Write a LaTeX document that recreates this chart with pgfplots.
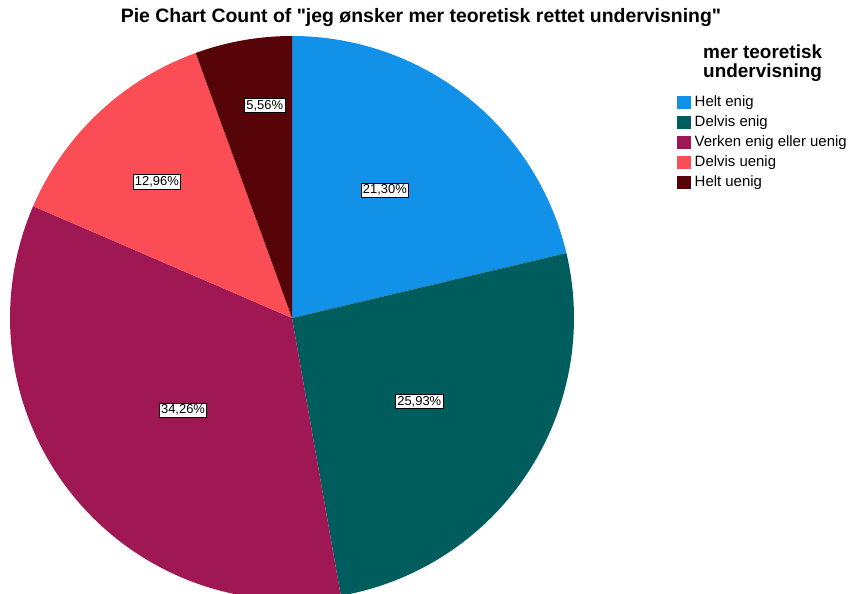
\documentclass[border=0pt]{standalone}
\usepackage{pgfplots}
\pgfplotsset{compat=1.18}
\usepgfplotslibrary{polar}
\usepackage{fontspec}
\setmainfont{Liberation Sans}[Ligatures=TeXOff]
\definecolor{cA}{HTML}{1192E8}
\definecolor{cB}{HTML}{005D5D}
\definecolor{cC}{HTML}{9F1853}
\definecolor{cD}{HTML}{FA4D56}
\definecolor{cE}{HTML}{570408}
% percentages
\def\pA{21.30}\def\pB{25.93}\def\pC{34.26}\def\pD{12.96}\def\pE{5.56}
\pgfmathsetmacro\aZ{90}
\pgfmathsetmacro\aA{\aZ-3.6*\pA}
\pgfmathsetmacro\aB{\aA-3.6*\pB}
\pgfmathsetmacro\aC{\aB-3.6*\pC}
\pgfmathsetmacro\aD{\aC-3.6*\pD}
\pgfmathsetmacro\aE{-270}
\begin{document}
\begin{tikzpicture}
\useasboundingbox (0bp,0bp) rectangle (854bp,594bp);
\begin{polaraxis}[
  at={(292bp,276bp)}, anchor=center,
  width=564bp, height=564bp, scale only axis,
  ymin=0, ymax=1,
  hide axis,
  clip=false,
  legend cell align=left,
  legend style={at={(1.18,0.899)}, anchor=north west, draw=none, fill=none,
    font=\fontsize{15}{17}\selectfont, row sep=4bp, inner sep=1bp,
    nodes={inner sep=1bp, text height=11bp, text depth=3bp},
    /tikz/every even column/.append style={column sep=0bp}},
  legend image code/.code={\fill[#1] (0bp,-6.5bp) rectangle (14bp,6.5bp);},
  legend entries={},
]
\addplot[fill=cA, draw=none, domain=\aA:\aZ, samples=60] {1} -- (axis cs:0,0) -- cycle;
\addlegendentry{\hspace{3bp}Helt enig}
\addplot[fill=cB, draw=none, domain=\aB:\aA, samples=60] {1} -- (axis cs:0,0) -- cycle;
\addlegendentry{\hspace{3bp}Delvis enig}
\addplot[fill=cC, draw=none, domain=\aC:\aB, samples=80] {1} -- (axis cs:0,0) -- cycle;
\addlegendentry{\hspace{3bp}Verken enig eller uenig}
\addplot[fill=cD, draw=none, domain=\aD:\aC, samples=40] {1} -- (axis cs:0,0) -- cycle;
\addlegendentry{\hspace{3bp}Delvis uenig}
\addplot[fill=cE, draw=none, domain=\aE:\aD, samples=30] {1} -- (axis cs:0,0) -- cycle;
\addlegendentry{\hspace{3bp}Helt uenig}
\tikzset{lbl/.style={draw=black, fill=white, line width=0.7bp, inner sep=1.8bp,
  font=\fontsize{13}{15}\selectfont}}
\node[lbl] at (axis cs:54,0.56) {21,30\%};
\node[lbl] at (axis cs:-33.3,0.54) {25,93\%};
\node[lbl] at (axis cs:-139.8,0.506) {34,26\%};
\node[lbl] at (axis cs:134.8,0.68) {12,96\%};
\node[lbl] at (axis cs:97.3,0.76) {5,56\%};
\end{polaraxis}
\node[font=\bfseries\fontsize{19.5}{22}\selectfont] at (421bp,576bp) {Pie Chart Count of "jeg ønsker mer teoretisk rettet undervisning"};
\node[font=\bfseries\fontsize{19}{19}\selectfont, align=left, anchor=north west, inner sep=0pt] at (703bp,549bp) {mer teoretisk\\undervisning};
\end{tikzpicture}
\end{document}
